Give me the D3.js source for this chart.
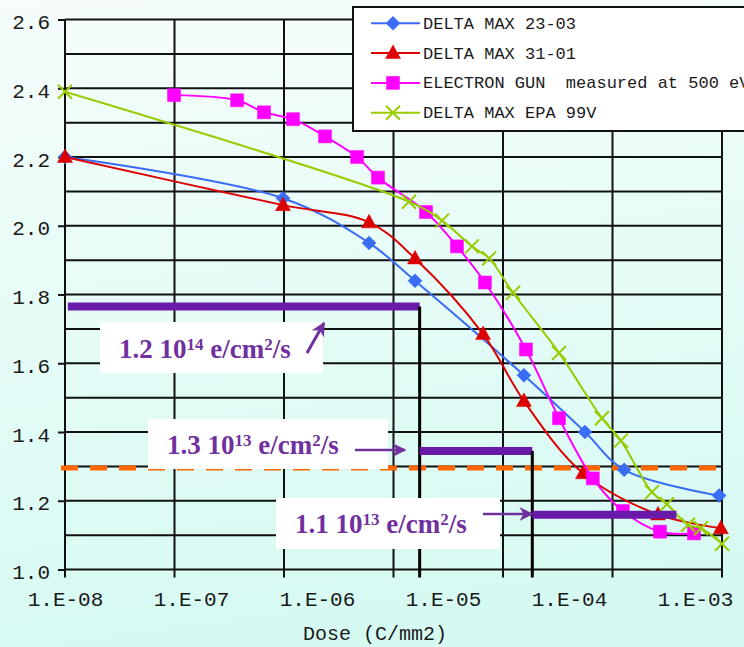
<!DOCTYPE html>
<head>
  <meta charset="utf-8">
  <title>Dose chart</title>
  <script src="https://d3js.org/d3.v7.min.js"></script>
  <style>
    body { margin: 0px; }
    svg { display: block; }
    text {
      font-family: "Liberation Mono", "Courier New", monospace;
      fill: #1a1a1a;
    }
    .axis text { font-size: 21px; }
    .axis line { stroke: #111; stroke-width: 2; }
    .legend text { font-size: 17px; white-space: pre; }
    .note text {
      font-family: "Liberation Serif", "Times New Roman", serif;
      font-weight: bold;
      font-size: 27px;
      fill: #7030a0;
    }
    .grid line { stroke: #111; stroke-width: 2; }
    .series path.line { fill: none; stroke-width: 2; }
  </style>
</head>
<body>
  <svg width="744" height="647"></svg>
  <script>
    // values
    var xLabels = ["1.E-08", "1.E-07", "1.E-06", "1.E-05", "1.E-04", "1.E-03"];
    var yTicks = [1.0, 1.2, 1.4, 1.6, 1.8, 2.0, 2.2, 2.4, 2.6];
    var names = ["DELTA MAX 23-03", "DELTA MAX 31-01", "ELECTRON GUN  measured at 500 eV", "DELTA MAX EPA 99V"];

    var doseA = [1e-8, 4.56e-7, 2.06e-6, 4.61e-6, 3.11e-5, 9.06e-5, 1.80e-4, 9.5e-4];
    var deltaA = [2.20, 2.08, 1.95, 1.84, 1.565, 1.40, 1.29, 1.215];

    var doseB = [1e-8, 4.56e-7, 2.06e-6, 4.61e-6, 1.52e-5, 3.11e-5, 8.75e-5, 3.26e-4, 9.8e-4];
    var deltaB = [2.20, 2.06, 2.01, 1.905, 1.685, 1.49, 1.28, 1.16, 1.12];

    var doseC = [6.76e-8, 2.04e-7, 3.27e-7, 5.43e-7, 9.53e-7, 1.67e-6, 2.41e-6, 5.59e-6, 9.62e-6,
                 1.57e-5, 3.22e-5, 5.75e-5, 1.04e-4, 1.76e-4, 3.37e-4, 6.12e-4];
    var deltaC = [2.38, 2.365, 2.33, 2.31, 2.26, 2.20, 2.14, 2.04, 1.94,
                  1.835, 1.64, 1.44, 1.265, 1.17, 1.11, 1.105];

    var doseD = [1e-8, 4.15e-6, 7.40e-6, 1.25e-5, 1.69e-5, 2.57e-5, 5.75e-5, 1.22e-4, 1.70e-4,
                 2.93e-4, 3.81e-4, 5.51e-4, 6.92e-4, 1e-3];
    var deltaD = [2.39, 2.07, 2.015, 1.94, 1.905, 1.805, 1.63, 1.44, 1.375,
                  1.225, 1.19, 1.13, 1.12, 1.075];

    // annotation levels: flux bars (y level, dose from, dose to)
    var barLevel = [1.765, 1.345, 1.159];
    var barFrom = [1.05e-8, 5e-6, 3.6e-5];
    var barTo = [5e-6, 3.6e-5, 4.5e-4];
    var fluxMant = ["1.2", "1.3", "1.1"];
    var fluxExp = ["14", "13", "13"];
    var limitLevel = 1.295;

    var colors = ["#3a6cf5", "#dd0000", "#ff00ff", "#99cc00"];
    var shapes = ["diamond", "triangle", "square", "cross"];

    var svg = d3.select("svg");
    var W = +svg.attr("width"), H = +svg.attr("height");
    var plot = { left: 65, right: 722, top: 19.5, bottom: 569.5 };

    var x = d3.scaleLog().domain([1e-8, 1e-3]).range([plot.left, plot.right]);
    var y = d3.scaleLinear().domain([1.0, 2.6]).range([plot.bottom, plot.top]);
    var gridX = d3.scaleLinear().domain([0, 6]).range([plot.left, plot.right]);
    var labelX = d3.scalePoint().domain(xLabels).range([65, 695]);

    // background
    var defs = svg.append("defs");
    var grad = defs.append("linearGradient").attr("id", "bg")
      .attr("x1", 0).attr("y1", 0).attr("x2", 0.15).attr("y2", 1);
    grad.append("stop").attr("offset", "0%").attr("stop-color", "#f6fdfc");
    grad.append("stop").attr("offset", "100%").attr("stop-color", "#d6faf2");
    svg.append("rect").attr("width", W).attr("height", H).attr("fill", "url(#bg)");

    function arrowMarker(id, w, h) {
      defs.append("marker").attr("id", id)
        .attr("viewBox", "0 0 10 10").attr("refX", 9).attr("refY", 5)
        .attr("markerUnits", "userSpaceOnUse")
        .attr("markerWidth", w).attr("markerHeight", h)
        .attr("orient", "auto")
        .append("path").attr("d", "M0,0L10,5L0,10L3,5Z").attr("fill", "#7030a0");
    }
    arrowMarker("arr", 16, 14);

    // grid
    var grid = svg.append("g").attr("class", "grid");
    grid.selectAll(".h").data(d3.range(10, 27).map(function(d) { return d / 10; }))
      .enter().append("line")
      .attr("x1", plot.left).attr("x2", plot.right)
      .attr("y1", function(d) { return y(d); }).attr("y2", function(d) { return y(d); });
    grid.selectAll(".v").data(gridX.ticks(6))
      .enter().append("line")
      .attr("x1", function(d) { return gridX(d); }).attr("x2", function(d) { return gridX(d); })
      .attr("y1", plot.top).attr("y2", plot.bottom + 8);

    // y axis
    var yAxis = d3.axisLeft(y).tickValues(yTicks).tickSize(7).tickPadding(8)
      .tickFormat(d3.format(".1f"));
    var gy = svg.append("g").attr("class", "axis").attr("transform", "translate(" + plot.left + ",0)").call(yAxis);
    gy.select(".domain").remove();
    gy.selectAll("text").attr("dy", "0.43em");

    // x axis labels
    var xAxis = d3.axisBottom(labelX).tickSize(0).tickPadding(22);
    var gx = svg.append("g").attr("class", "axis").attr("transform", "translate(0," + plot.bottom + ")").call(xAxis);
    gx.select(".domain").remove();
    svg.append("text").attr("x", 375).attr("y", 640).attr("text-anchor", "middle")
      .style("font-size", "20px").text("Dose (C/mm2)");

    // dashed limit
    svg.append("line")
      .attr("x1", plot.left - 4).attr("x2", plot.right + 1)
      .attr("y1", y(limitLevel)).attr("y2", y(limitLevel))
      .attr("stroke", "#ff6600").attr("stroke-width", 5).attr("stroke-dasharray", "17,12");

    // series
    var doses = [doseA, doseB, doseC, doseD];
    var deltas = [deltaA, deltaB, deltaC, deltaD];
    var series = names.map(function(n, i) {
      return { name: n, color: colors[i], shape: shapes[i],
        points: doses[i].map(function(d, j) { return [d, deltas[i][j]]; }) };
    });

    function shapePath(s) {
      if (s == "diamond") return "M0,-7L7,0L0,7L-7,0Z";
      if (s == "triangle") return "M0,-8L7.5,5.5L-7.5,5.5Z";
      if (s == "square") return "M-6.5,-6.5H6.5V6.5H-6.5Z";
      return "M-7,-7L7,7M-7,7L7,-7";
    }
    function drawMarker(sel, s, c) {
      sel.append("path").attr("d", shapePath(s))
        .attr("fill", s == "cross" ? "none" : c)
        .attr("stroke", c).attr("stroke-width", s == "cross" ? 2 : 0.5);
    }

    var line = d3.line()
      .x(function(d) { return x(d[0]); })
      .y(function(d) { return y(d[1]); })
      .curve(d3.curveCatmullRom.alpha(0.5));

    var sg = svg.selectAll(".series").data(series).enter().append("g").attr("class", "series");
    sg.append("path").attr("class", "line")
      .attr("stroke", function(d) { return d.color; })
      .attr("d", function(d) { return line(d.points); });
    sg.each(function(d) {
      var g = d3.select(this);
      g.selectAll(".pt").data(d.points).enter().append("g")
        .attr("transform", function(p) { return "translate(" + x(p[0]) + "," + y(p[1]) + ")"; })
        .each(function() { drawMarker(d3.select(this), d.shape, d.color); });
    });

    // flux bars and drop lines
    var bars = svg.append("g");
    barLevel.forEach(function(lv, i) {
      bars.append("line")
        .attr("x1", x(barFrom[i])).attr("x2", x(barTo[i]))
        .attr("y1", y(lv)).attr("y2", y(lv))
        .attr("stroke", "#6a1aa8").attr("stroke-width", 8);
      if (i < 2) {
        bars.append("line")
          .attr("x1", x(barTo[i])).attr("x2", x(barTo[i]))
          .attr("y1", y(lv)).attr("y2", plot.bottom + 8)
          .attr("stroke", "#000").attr("stroke-width", 3);
      }
    });

    // notes
    var boxes = [
      { x: 100, y: 322, w: 223, h: 51, tx: 119, ty: 358, ax1: 307, ay1: 353, ax2: 324, ay2: 323 },
      { x: 148, y: 419, w: 240, h: 50, tx: 167, ty: 454, ax1: 355, ay1: 450, ax2: 405, ay2: 450 },
      { x: 276, y: 498, w: 224, h: 51, tx: 295, ty: 533, ax1: 483, ay1: 514, ax2: 532, ay2: 514 }
    ];
    var notes = svg.append("g").attr("class", "note");
    boxes.forEach(function(b, i) {
      notes.append("rect").attr("x", b.x).attr("y", b.y).attr("width", b.w).attr("height", b.h)
        .attr("fill", "#fff");
      var t = notes.append("text").attr("x", b.tx).attr("y", b.ty);
      t.append("tspan").text(fluxMant[i] + " 10");
      t.append("tspan").attr("dy", -8).style("font-size", "17px").text(fluxExp[i]);
      t.append("tspan").attr("dy", 8).text(" e/cm");
      t.append("tspan").attr("dy", -8).style("font-size", "17px").text("2");
      t.append("tspan").attr("dy", 8).text("/s");
      notes.append("line").attr("x1", b.ax1).attr("y1", b.ay1).attr("x2", b.ax2).attr("y2", b.ay2)
        .attr("stroke", "#7030a0").attr("stroke-width", i == 0 ? 3 : 2.5)
        .attr("marker-end", "url(#arr)");
    });

    // legend
    var lg = svg.append("g").attr("class", "legend");
    lg.append("rect").attr("x", 353).attr("y", 7).attr("width", 420).attr("height", 124)
      .attr("fill", "#fff").attr("stroke", "#111").attr("stroke-width", 2);
    var rowY = d3.scaleLinear().domain([0, 3]).range([23.3, 112.7]);
    var rows = lg.selectAll(".row").data(series).enter().append("g")
      .attr("transform", function(d, i) { return "translate(0," + rowY(i) + ")"; });
    rows.append("line").attr("x1", 371).attr("x2", 420)
      .attr("stroke", function(d) { return d.color; }).attr("stroke-width", 2);
    rows.each(function(d) {
      var m = d3.select(this).append("g").attr("transform", "translate(393,0)");
      drawMarker(m, d.shape, d.color);
    });
    rows.append("text").attr("x", 423).attr("y", 5.5).text(function(d) { return d.name; });
  </script>
</body>
</html>
